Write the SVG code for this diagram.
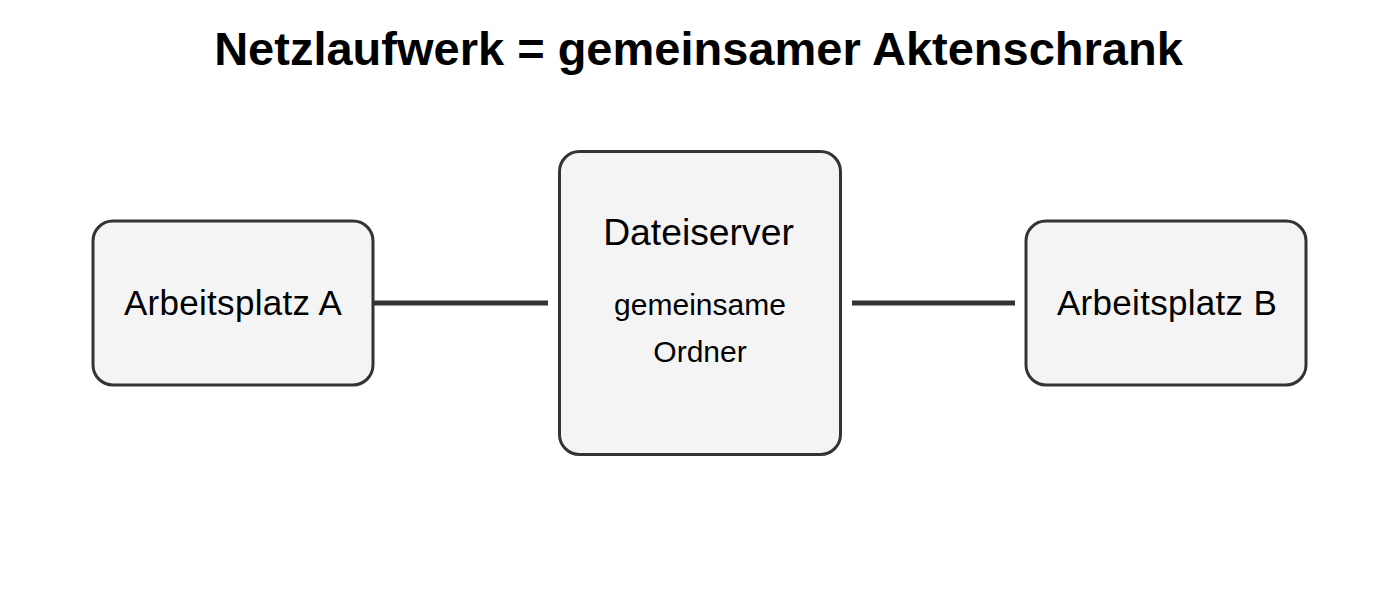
<svg xmlns="http://www.w3.org/2000/svg" width="1400" height="607" viewBox="0 0 1400 607">
<style>
.node{fill:#f4f4f4;stroke:#333333;stroke-width:3}
.lbl{font-family:"Liberation Sans",Arial,sans-serif;fill:#000;text-anchor:middle}
.conn{stroke:#333333;stroke-width:5;fill:none}
</style>
<rect width="1400" height="607" fill="#ffffff"/>
<text class="lbl" x="698.5" y="65" font-size="47" font-weight="bold">Netzlaufwerk = gemeinsamer Aktenschrank</text>
<g id="connectors">
<line class="conn" x1="374" y1="303" x2="548" y2="303"/>
<line class="conn" x1="852" y1="303" x2="1015" y2="303"/>
</g>
<g id="arbeitsplatz-a">
<rect class="node" x="93" y="221" width="280" height="164" rx="20"/>
<text class="lbl" x="233" y="315" font-size="35" letter-spacing="0.3">Arbeitsplatz A</text>
</g>
<g id="dateiserver">
<rect class="node" x="559.5" y="151.5" width="281" height="303" rx="20"/>
<text class="lbl" x="698.5" y="245" font-size="37.3">Dateiserver</text>
<text class="lbl" x="700" y="315" font-size="30">gemeinsame</text>
<text class="lbl" x="700" y="362" font-size="30">Ordner</text>
</g>
<g id="arbeitsplatz-b">
<rect class="node" x="1026" y="221" width="280" height="164" rx="20"/>
<text class="lbl" x="1167" y="315" font-size="35" letter-spacing="0.3">Arbeitsplatz B</text>
</g>
</svg>
